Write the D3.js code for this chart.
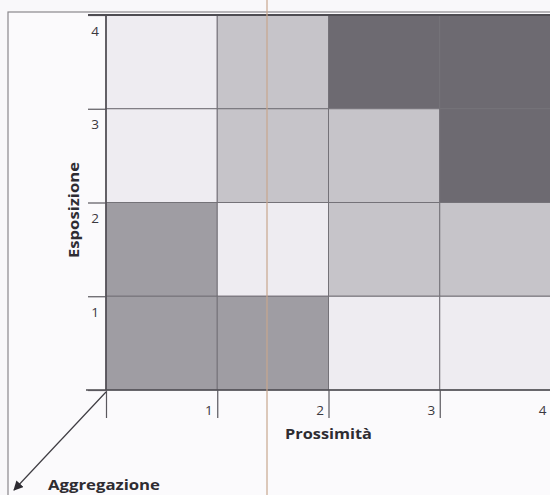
<!DOCTYPE html>
<html>
<head>
<meta charset="utf-8">
<script src="https://cdn.jsdelivr.net/npm/d3@7"></script>
<style>
  body { margin: 0; background: #f9f8fa; }
  svg { display: block; }
</style>
</head>
<body>
<div class="canvas"></div>
<script>
// data
const prossimita = [1, 2, 3, 4];
const esposizione = [4, 3, 2, 1];
// aggregation level per row (esposizione 4 -> 1), per column (prossimita 1 -> 4)
const row4 = [1, 2, 4, 4];
const row3 = [1, 2, 2, 4];
const row2 = [3, 1, 2, 2];
const row1 = [3, 3, 1, 1];
const tickValues = [0, 1, 2, 3, 4];

const rows = [row4, row3, row2, row1];
const cells = [];
rows.forEach((r, i) => r.forEach((v, j) => cells.push({ x: prossimita[j], y: esposizione[i], v })));

const svg = d3.select(".canvas").append("svg")
  .attr("width", 550)
  .attr("height", 495);

// frame of the scanned page
svg.append("rect")
  .attr("x", 8).attr("y", 12)
  .attr("width", 600).attr("height", 600)
  .attr("fill", "#fbfafc")
  .attr("stroke", "#8a888c")
  .attr("stroke-width", 1.2);

const grid = { left: 106, right: 551, top: 15, bottom: 390 };

const xScale = d3.scaleBand().domain(prossimita).range([grid.left, grid.right]);
const yScale = d3.scaleBand().domain(esposizione).range([grid.top, grid.bottom]);
const xLin = d3.scaleLinear().domain([0, 4]).range([grid.left, grid.right]);
const yLin = d3.scaleLinear().domain([0, 4]).range([grid.bottom, grid.top]);

const colors = d3.scaleOrdinal()
  .domain([1, 2, 3, 4])
  .range(["#eeecf1", "#c6c4c9", "#9f9da3", "#6d6a71"]);

svg.append("g").selectAll("rect")
  .data(cells)
  .enter().append("rect")
  .attr("x", d => xScale(d.x))
  .attr("y", d => yScale(d.y))
  .attr("width", xScale.bandwidth())
  .attr("height", yScale.bandwidth())
  .attr("fill", d => colors(d.v))
  .attr("stroke", "#747278")
  .attr("stroke-width", 1);

// axes
const xAxis = d3.axisBottom(xLin)
  .tickValues(tickValues)
  .tickSize(28)
  .tickFormat(d => d ? d : "");
const yAxis = d3.axisLeft(yLin)
  .tickValues(tickValues)
  .tickSize(18)
  .tickFormat(d => d ? d : "");

const xAxisGroup = svg.append("g")
  .attr("transform", `translate(0, ${grid.bottom})`)
  .call(xAxis);
xAxisGroup.selectAll("text")
  .attr("x", -5).attr("y", 15)
  .attr("text-anchor", "end");

const yAxisGroup = svg.append("g")
  .attr("transform", `translate(${grid.left}, 0)`)
  .call(yAxis);
yAxisGroup.selectAll("text")
  .attr("x", -7).attr("dy", 0).attr("y", 20)
  .attr("text-anchor", "end");

svg.selectAll(".domain").attr("stroke", "#4e4c52").attr("stroke-width", 1.6);
svg.selectAll(".tick line").attr("stroke", "#5a585e").attr("stroke-width", 1.2);
svg.selectAll(".tick text")
  .attr("fill", "#3a383e")
  .style("font-family", "'Open Sans', sans-serif")
  .style("font-size", "13.5px");
// the axis domain lines run past the grid like in the scan
xAxisGroup.select(".domain").attr("d", `M${grid.left - 20},0H${grid.right}`);
yAxisGroup.select(".domain").attr("d", `M0,${grid.bottom}V${grid.top}`);
svg.append("line")
  .attr("x1", 88).attr("x2", 550)
  .attr("y1", grid.top).attr("y2", grid.top)
  .attr("stroke", "#4e4c52").attr("stroke-width", 1.8);

// axis titles
const titleFont = "'Open Sans', sans-serif";
svg.append("text")
  .attr("x", 285).attr("y", 439)
  .attr("fill", "#2e2c32")
  .style("font-family", titleFont)
  .style("font-weight", "bold")
  .style("font-size", "14.5px")
  .attr("textLength", 87)
  .attr("lengthAdjust", "spacingAndGlyphs")
  .text("Prossimità");

svg.append("text")
  .attr("transform", "translate(79, 210) rotate(-90)")
  .attr("text-anchor", "middle")
  .attr("fill", "#2e2c32")
  .style("font-family", titleFont)
  .style("font-weight", "bold")
  .style("font-size", "14.5px")
  .attr("textLength", 96)
  .attr("lengthAdjust", "spacingAndGlyphs")
  .text("Esposizione");

// third dimension arrow
svg.append("defs").append("marker")
  .attr("id", "arrow")
  .attr("viewBox", "0 0 10 10")
  .attr("refX", 9).attr("refY", 5)
  .attr("markerWidth", 8).attr("markerHeight", 8)
  .attr("orient", "auto")
  .append("path")
  .attr("d", "M0,0L10,5L0,10z")
  .attr("fill", "#2e2c32");

svg.append("line")
  .attr("x1", grid.left).attr("y1", grid.bottom + 2)
  .attr("x2", 14).attr("y2", 490)
  .attr("stroke", "#3e3c42").attr("stroke-width", 1.2)
  .attr("marker-end", "url(#arrow)");

svg.append("text")
  .attr("x", 48).attr("y", 490)
  .attr("fill", "#2e2c32")
  .style("font-family", titleFont)
  .style("font-weight", "bold")
  .style("font-size", "14.5px")
  .attr("textLength", 112)
  .attr("lengthAdjust", "spacingAndGlyphs")
  .text("Aggregazione");

// fold mark on the scan
svg.append("line")
  .attr("x1", 267).attr("x2", 267)
  .attr("y1", 0).attr("y2", 495)
  .attr("stroke", "#c8a78e").attr("stroke-width", 1.2);
</script>
</body>
</html>
